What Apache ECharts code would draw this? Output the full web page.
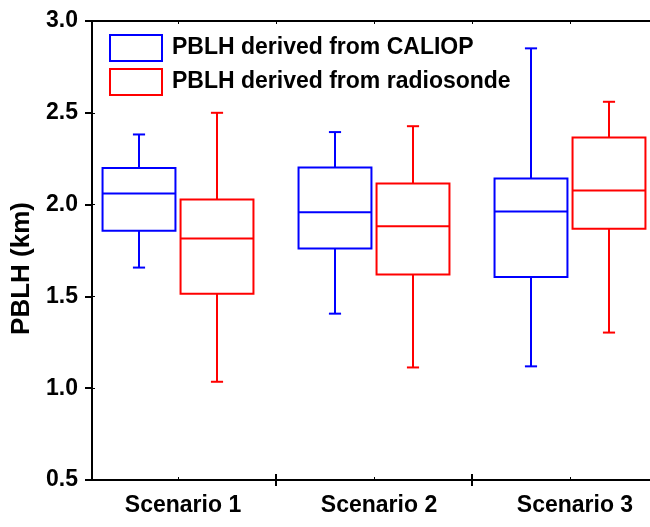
<!DOCTYPE html>
<html>
<head>
<meta charset="utf-8">
<script src="https://cdn.jsdelivr.net/npm/echarts@6/dist/echarts.min.js"></script>
<style>
html,body{margin:0;padding:0;background:#fff;}
#chart{width:650px;height:527px;}
</style>
</head>
<body>
<div id="chart"></div>
<script>
// ---- data ----
const categories = ['Scenario 1', 'Scenario 2', 'Scenario 3'];
const seriesNames = ['PBLH derived from CALIOP', 'PBLH derived from radiosonde'];
// [min, Q1, median, Q3, max] in km
const caliop = [
  [1.657, 1.857, 2.060, 2.200, 2.382],
  [1.406, 1.761, 1.959, 2.202, 2.395],
  [1.119, 1.606, 1.962, 2.142, 2.851]
];
const radiosonde = [
  [1.035, 1.515, 1.815, 2.028, 2.500],
  [1.113, 1.619, 1.882, 2.115, 2.427],
  [1.303, 1.868, 2.077, 2.366, 2.560]
];
const yMin = 0.5, yMax = 3.0, yStep = 0.5;

const FONT = 'Liberation Sans, Arial, sans-serif';
const BLUE = '#0000ff', RED = '#ff0000';

function boxRenderer(color, side) {
  return function (params, api) {
    const idx = api.value(0);
    const band = api.size([1, 0])[0];
    const off = side * band * 0.199;
    const bw = band * 0.372;
    const cap = band * 0.062;
    const cx = api.coord([idx, yMin])[0] + off;
    const y = v => api.coord([idx, v])[1];
    const yMinP = y(api.value(1)), yQ1 = y(api.value(2)), yMed = y(api.value(3)),
          yQ3 = y(api.value(4)), yMaxP = y(api.value(5));
    const st = { stroke: color, lineWidth: 2, fill: null };
    return {
      type: 'group',
      children: [
        { type: 'line', shape: { x1: cx, y1: yQ3, x2: cx, y2: yMaxP }, style: st },
        { type: 'line', shape: { x1: cx, y1: yQ1, x2: cx, y2: yMinP }, style: st },
        { type: 'line', shape: { x1: cx - cap / 2, y1: yMaxP, x2: cx + cap / 2, y2: yMaxP }, style: st },
        { type: 'line', shape: { x1: cx - cap / 2, y1: yMinP, x2: cx + cap / 2, y2: yMinP }, style: st },
        { type: 'rect', shape: { x: cx - bw / 2, y: yQ3, width: bw, height: yQ1 - yQ3 }, style: { stroke: color, lineWidth: 2, fill: 'none' } },
        { type: 'line', shape: { x1: cx - bw / 2, y1: yMed, x2: cx + bw / 2, y2: yMed }, style: st }
      ]
    };
  };
}

// category index axis: visible plot starts inside the first category's band and is cut at the right edge
const xMin = -0.4388, xMax = 2.4082;
const majorX = [0.5, 1.5];
const minorX = [0, 1, 2];
const topX = [0, 0.5, 1, 1.5, 2];

const axisLineStyle = { color: '#000', width: 2 };
const baseX = { type: 'value', min: xMin, max: xMax, splitLine: { show: false } };

const chart = echarts.init(document.getElementById('chart'), null, { renderer: 'canvas' });
chart.setOption({
  animation: false,
  backgroundColor: '#fff',
  textStyle: { fontFamily: FONT },
  grid: { left: 92, right: 0, top: 21, bottom: 47, containLabel: false },
  legend: {
    orient: 'vertical',
    left: 109, top: 34, padding: 0,
    itemWidth: 52, itemHeight: 26, itemGap: 6,
    selectedMode: false,
    textStyle: { fontSize: 23, fontWeight: 'bold', color: '#000', fontFamily: FONT, padding: [0, 0, 0, 5] },
    data: [
      { name: seriesNames[0], icon: 'rect', itemStyle: { color: '#fff', borderColor: BLUE, borderWidth: 2 } },
      { name: seriesNames[1], icon: 'rect', itemStyle: { color: '#fff', borderColor: RED, borderWidth: 2 } }
    ]
  },
  xAxis: [
    Object.assign({}, baseX, {
      position: 'bottom',
      axisLine: { show: true, onZero: false, lineStyle: axisLineStyle },
      axisTick: { show: true, inside: false, length: 6, customValues: majorX, lineStyle: { color: '#000', width: 2 } },
      axisLabel: {
        show: true, customValues: minorX, margin: 14, padding: [0, 0, 0, 10],
        color: '#000', fontSize: 23, fontWeight: 'bold', fontFamily: FONT,
        formatter: v => categories[Math.round(v)]
      }
    }),
    Object.assign({}, baseX, {
      position: 'bottom',
      axisLine: { show: false, onZero: false },
      axisTick: { show: true, inside: true, length: 6, customValues: majorX, lineStyle: { color: '#000', width: 2 } },
      axisLabel: { show: false }
    }),
    Object.assign({}, baseX, {
      position: 'bottom',
      axisLine: { show: false, onZero: false },
      axisTick: { show: true, inside: true, length: 3, customValues: minorX, lineStyle: { color: '#000', width: 1 } },
      axisLabel: { show: false }
    }),
    Object.assign({}, baseX, {
      position: 'top',
      axisLine: { show: true, onZero: false, lineStyle: axisLineStyle },
      axisTick: { show: true, inside: true, length: 3, customValues: topX, lineStyle: { color: '#000', width: 1 } },
      axisLabel: { show: false }
    })
  ],
  yAxis: [
    {
      type: 'value', min: yMin, max: yMax, interval: yStep, position: 'left',
      splitLine: { show: false },
      axisLine: { show: true, onZero: false, lineStyle: axisLineStyle },
      axisTick: { show: true, inside: false, length: 7, lineStyle: { color: '#000', width: 2 } },
      axisLabel: { color: '#000', fontSize: 23, fontWeight: 'bold', fontFamily: FONT, margin: 14, formatter: v => v.toFixed(1) },
      name: 'PBLH (km)', nameLocation: 'middle', nameGap: 54,
      nameTextStyle: { color: '#000', fontSize: 26, fontWeight: 'bold', fontFamily: FONT, padding: [0, 36, 0, 0] }
    },
    {
      type: 'value', min: yMin, max: yMax, interval: yStep, position: 'left',
      splitLine: { show: false },
      axisLine: { show: false, onZero: false },
      axisTick: { show: true, inside: true, length: 3, lineStyle: { color: '#000', width: 1 } },
      axisLabel: { show: false }
    }
  ],
  series: [
    {
      name: seriesNames[0], type: 'custom', xAxisIndex: 0, yAxisIndex: 0,
      itemStyle: { color: BLUE, borderColor: BLUE },
      renderItem: boxRenderer(BLUE, -1),
      encode: { x: 0, y: [1, 2, 3, 4, 5] },
      data: caliop.map((d, i) => [i].concat(d))
    },
    {
      name: seriesNames[1], type: 'custom', xAxisIndex: 0, yAxisIndex: 0,
      itemStyle: { color: RED, borderColor: RED },
      renderItem: boxRenderer(RED, 1),
      encode: { x: 0, y: [1, 2, 3, 4, 5] },
      data: radiosonde.map((d, i) => [i].concat(d))
    }
  ]
});
</script>
</body>
</html>
